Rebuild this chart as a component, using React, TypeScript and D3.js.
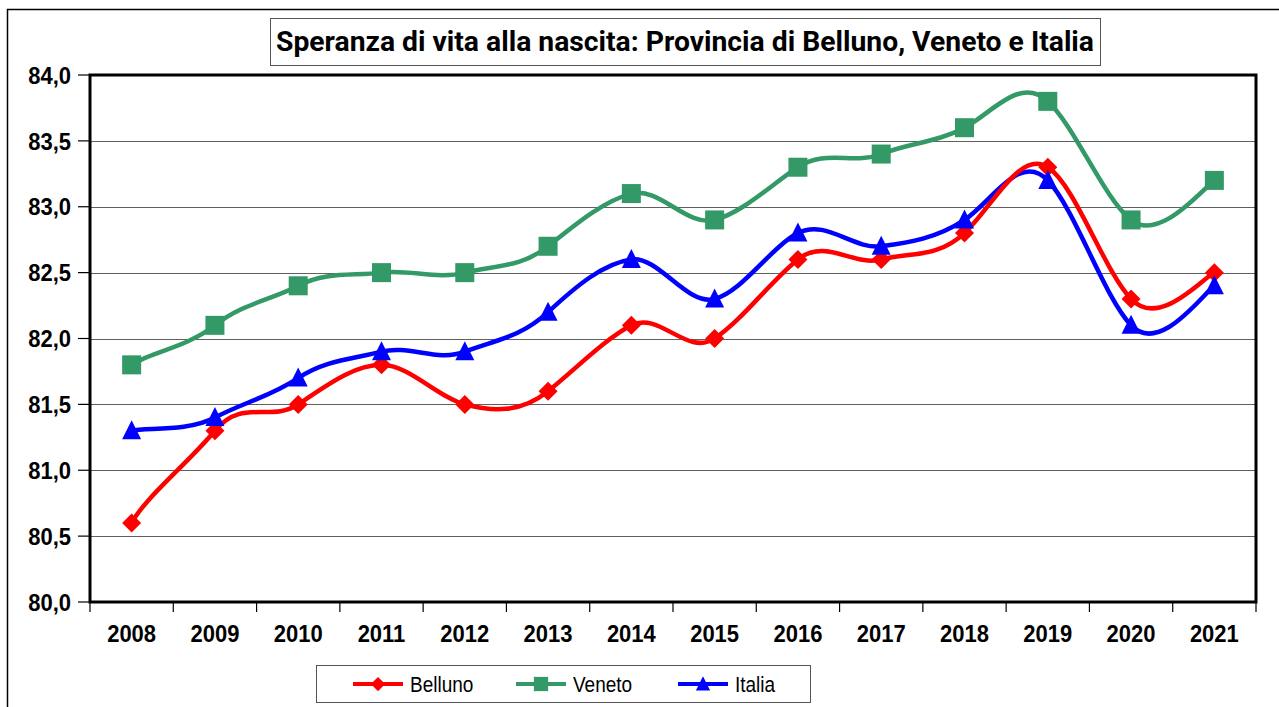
import React from "react";
import * as d3 from "d3";

const years = ["2008","2009","2010","2011","2012","2013","2014","2015","2016","2017","2018","2019","2020","2021"];
const belluno = [80.6, 81.3, 81.5, 81.8, 81.5, 81.6, 82.1, 82.0, 82.6, 82.6, 82.8, 83.3, 82.3, 82.5];
const veneto = [81.8, 82.1, 82.4, 82.5, 82.5, 82.7, 83.1, 82.9, 83.3, 83.4, 83.6, 83.8, 82.9, 83.2];
const italia = [81.3, 81.4, 81.7, 81.9, 81.9, 82.2, 82.6, 82.3, 82.8, 82.7, 82.9, 83.2, 82.1, 82.4];
const yTicks = [80.0, 80.5, 81.0, 81.5, 82.0, 82.5, 83.0, 83.5, 84.0];
const title = "Speranza di vita alla nascita: Provincia di Belluno, Veneto e Italia";

const series = [
  { name: "Belluno", values: belluno, color: "#FF0000", marker: "diamond" },
  { name: "Veneto", values: veneto, color: "#339966", marker: "square" },
  { name: "Italia", values: italia, color: "#0000FF", marker: "triangle" },
];

const W = 1279, H = 707;
const L = 90, R = 1256, T = 75, B = 602;

// Excel-like smoothed curve: Catmull-Rom tangents with a stronger vertical factor
function excelCurve(ctx: any) {
  let pts: [number, number][] = [];
  const kx = 1 / 6, ky = 0.28;
  return {
    areaStart() {},
    areaEnd() {},
    lineStart() { pts = []; },
    point(x: number, y: number) { pts.push([x, y]); },
    lineEnd() {
      const n = pts.length;
      if (!n) return;
      ctx.moveTo(pts[0][0], pts[0][1]);
      const tan = (i: number): [number, number] => {
        const a = pts[Math.max(0, i - 1)], b = pts[Math.min(n - 1, i + 1)];
        return [b[0] - a[0], b[1] - a[1]];
      };
      for (let i = 0; i < n - 1; i++) {
        const p1 = pts[i], p2 = pts[i + 1];
        const t1 = tan(i), t2 = tan(i + 1);
        ctx.bezierCurveTo(
          p1[0] + kx * t1[0], p1[1] + ky * t1[1],
          p2[0] - kx * t2[0], p2[1] - ky * t2[1],
          p2[0], p2[1]
        );
      }
    },
  };
}

function Marker({ type, x, y, color }: { type: string; x: number; y: number; color: string }) {
  if (type === "diamond") {
    const s = 9.5;
    return <path d={`M${x},${y - s}L${x + s},${y}L${x},${y + s}L${x - s},${y}Z`} fill={color} />;
  }
  if (type === "square") {
    const s = 9.5;
    return <rect x={x - s} y={y - s} width={2 * s} height={2 * s} fill={color} />;
  }
  const s = 9.5;
  return <path d={`M${x},${y - s - 1}L${x + s},${y + s - 1}L${x - s},${y + s - 1}Z`} fill={color} />;
}

export default function App() {
  const x = d3.scaleBand<string>().domain(years).range([L, R]);
  const y = d3.scaleLinear().domain([80, 84]).range([B, T]);
  const cx = (yr: string) => (x(yr) as number) + x.bandwidth() / 2;
  const line = d3
    .line<number>()
    .x((_, i) => cx(years[i]))
    .y((v) => y(v))
    .curve(excelCurve as any);

  const font = "'Liberation Sans', Arial, sans-serif";
  const lineOrder = [series[2], series[1], series[0]];
  const boundaries = years.map((yr) => x(yr) as number).concat([R]);

  const legendItems = [
    { s: series[0], lx: 353, tx: 410 },
    { s: series[1], lx: 516, tx: 573 },
    { s: series[2], lx: 678, tx: 735 },
  ];

  return (
    <svg width={W} height={H} style={{ position: "absolute", left: 0, top: 0, background: "#fff" }} fontFamily={font}>
      <rect x={0} y={0} width={W} height={H} fill="#fff" />
      <rect x={7.5} y={9.5} width={W + 20} height={H + 20} fill="none" stroke="#000" strokeWidth={1.5} />

      {/* title */}
      <rect x={270.5} y={18.5} width={830} height={47} fill="#fff" stroke="#555" strokeWidth={1} />
      <text x={685} y={51} textAnchor="middle" fontSize={26} fontWeight="bold" fontFamily="Roboto, sans-serif"
        textLength={818} lengthAdjust="spacingAndGlyphs"
        transform="translate(0,51) scale(1,1.08) translate(0,-51)">{title}</text>

      {/* gridlines */}
      {yTicks.map((t) => (
        <line key={t} x1={L} x2={R} y1={Math.round(y(t)) + 0.5} y2={Math.round(y(t)) + 0.5} stroke="#606060" strokeWidth={1.2} />
      ))}

      {/* plot border */}
      <rect x={L} y={T} width={R - L} height={B - T} fill="none" stroke="#000" strokeWidth={3} />

      {/* y ticks & labels */}
      {yTicks.map((t) => (
        <g key={"yt" + t}>
          <line x1={78} x2={L} y1={y(t)} y2={y(t)} stroke="#000" strokeWidth={1.2} />
          <text x={71} y={y(t)} dy="0.36em" textAnchor="end" fontSize={22} fontWeight="bold"
            transform={`translate(0,${y(t)}) scale(1,1.1) translate(0,${-y(t)})`}>
            {t.toFixed(1).replace(".", ",")}
          </text>
        </g>
      ))}

      {/* x ticks & labels */}
      {boundaries.map((bx, i) => (
        <line key={"xt" + i} x1={bx} x2={bx} y1={B} y2={612} stroke="#000" strokeWidth={1.2} />
      ))}
      {years.map((yr) => (
        <text key={"xl" + yr} x={cx(yr)} y={642} textAnchor="middle" fontSize={22} fontWeight="bold"
          transform={`translate(0,642) scale(1,1.1) translate(0,-642)`}>
          {yr}
        </text>
      ))}

      {/* lines */}
      {lineOrder.map((s) => (
        <path key={"l" + s.name} d={line(s.values) || ""} fill="none" stroke={s.color} strokeWidth={4.5} strokeLinejoin="round" />
      ))}
      {series.map((s) =>
        s.values.map((v, i) => (
          <Marker key={s.name + i} type={s.marker} x={cx(years[i])} y={y(v)} color={s.color} />
        ))
      )}

      {/* legend */}
      <rect x={316.5} y={665.5} width={494} height={37} fill="#fff" stroke="#555" strokeWidth={1} />
      {legendItems.map(({ s, lx, tx }) => (
        <g key={"lg" + s.name}>
          <line x1={lx} x2={lx + 50} y1={684} y2={684} stroke={s.color} strokeWidth={4} />
          <g transform={`translate(${lx + 25},684) scale(0.75)`}>
            <Marker type={s.marker} x={0} y={0} color={s.color} />
          </g>
          <text x={tx} y={684} dy="0.36em" fontSize={19}
            transform={`translate(0,684) scale(1,1.12) translate(0,-684)`}>{s.name}</text>
        </g>
      ))}
    </svg>
  );
}
